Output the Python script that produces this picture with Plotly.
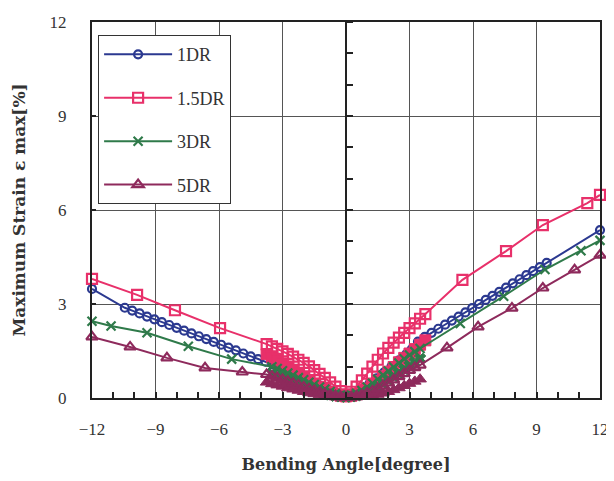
import plotly.graph_objects as go

# ---------------- data ----------------
series_names = ["1DR", "1.5DR", "3DR", "5DR"]

# 1DR (blue circles)
x_1dr = [-12, -10.45, -10.1, -9.75, -9.4, -9.05, -8.7, -8.35, -8.0, -7.65, -7.3, -6.95, -6.6, -6.25,
         -5.9, -5.55, -5.2, -4.85, -4.5, -4.15, -3.8, -3.45, -3.1, -2.75, -2.4, -2.05, -1.7, -1.35,
         -1.0, -0.65, -0.3, 0.05, 0.4, 0.75, 1.1, 1.45, 1.8, 2.15, 2.5, 2.85, 3.1, 3.4, 3.72, 4.04,
         4.36, 4.68, 5.0, 5.32, 5.64, 5.96, 6.28, 6.6, 6.92, 7.24, 7.56, 7.88, 8.2, 8.52, 8.84, 9.16,
         9.48, 12]
y_1dr = [3.48, 2.88, 2.79, 2.70, 2.60, 2.51, 2.42, 2.33, 2.24, 2.15, 2.06, 1.97, 1.88, 1.79,
         1.70, 1.61, 1.52, 1.42, 1.33, 1.24, 1.16, 1.07, 0.98, 0.88, 0.78, 0.67, 0.56, 0.45,
         0.34, 0.23, 0.13, 0.07, 0.14, 0.28, 0.45, 0.63, 0.82, 1.01, 1.20, 1.40, 1.55, 1.80, 1.95, 2.08,
         2.21, 2.34, 2.47, 2.60, 2.73, 2.87, 3.00, 3.13, 3.26, 3.39, 3.52, 3.66, 3.79, 3.92, 4.05, 4.18,
         4.31, 5.36]

# 1.5DR (red squares) - loading branch
x_15dr = [-12, -9.87, -8.08, -5.95, -3.75, -3.5, -3.25, -3.0, -2.75, -2.5, -2.25, -2.0, -1.75, -1.5,
          -1.25, -1.0, -0.75, -0.5, -0.25, 0, 0.25, 0.5, 0.75, 1.0, 1.25, 1.5, 1.75, 2.0, 2.25, 2.5,
          2.75, 3.0, 3.25, 3.5, 3.75, 5.5, 7.56, 9.3, 11.4, 12]
y_15dr = [3.80, 3.29, 2.80, 2.23, 1.72, 1.65, 1.57, 1.49, 1.41, 1.32, 1.22, 1.12, 1.01, 0.89,
          0.77, 0.64, 0.50, 0.36, 0.22, 0.12, 0.20, 0.36, 0.56, 0.78, 1.00, 1.22, 1.42, 1.60, 1.77, 1.93,
          2.08, 2.23, 2.38, 2.53, 2.68, 3.77, 4.69, 5.52, 6.22, 6.48]
# 1.5DR - return branch in the dense range
x_15dr_ret = [-3.75, -3.5, -3.25, -3.0, -2.75, -2.5, -2.25, -2.0, -1.75, -1.5, -1.25, -1.0, -0.75, -0.5,
              -0.25, 0, 0.25, 0.5, 0.75, 1.0, 1.25, 1.5, 1.75, 2.0, 2.25, 2.5, 2.75, 3.0, 3.25, 3.5, 3.75]
y_15dr_ret = [1.40, 1.30, 1.20, 1.10, 0.99, 0.88, 0.77, 0.66, 0.56, 0.46, 0.36, 0.27, 0.19, 0.12,
              0.07, 0.05, 0.07, 0.12, 0.20, 0.30, 0.42, 0.55, 0.69, 0.84, 0.99, 1.14, 1.28, 1.42, 1.56, 1.70, 1.84]

# 3DR (green crosses) - loading branch
x_3dr = [-12, -11.1, -9.4, -7.45, -5.4, -3.5, -3.25, -3.0, -2.75, -2.5, -2.25, -2.0, -1.75, -1.5,
         -1.25, -1.0, -0.75, -0.5, -0.25, 0, 0.25, 0.5, 0.75, 1.0, 1.25, 1.5, 1.75, 2.0, 2.25, 2.5,
         2.75, 3.0, 3.25, 3.5, 5.4, 7.45, 9.4, 11.1, 12]
y_3dr = [2.45, 2.30, 2.08, 1.65, 1.24, 1.00, 0.94, 0.87, 0.80, 0.73, 0.65, 0.58, 0.50, 0.43,
         0.35, 0.28, 0.21, 0.14, 0.09, 0.06, 0.09, 0.15, 0.24, 0.35, 0.47, 0.60, 0.73, 0.86, 0.99, 1.12,
         1.25, 1.37, 1.48, 1.58, 2.38, 3.25, 4.10, 4.70, 5.03]
x_3dr_ret = [-3.5, -3.25, -3.0, -2.75, -2.5, -2.25, -2.0, -1.75, -1.5, -1.25, -1.0, -0.75, -0.5, -0.25,
             0, 0.25, 0.5, 0.75, 1.0, 1.25, 1.5, 1.75, 2.0, 2.25, 2.5, 2.75, 3.0, 3.25, 3.5]
y_3dr_ret = [0.78, 0.72, 0.66, 0.60, 0.53, 0.47, 0.40, 0.34, 0.28, 0.22, 0.16, 0.11, 0.07, 0.05,
             0.04, 0.05, 0.08, 0.13, 0.20, 0.28, 0.37, 0.47, 0.58, 0.69, 0.80, 0.92, 1.03, 1.14, 1.25]

# 5DR (purple triangles) - loading branch
x_5dr = [-12, -10.2, -8.46, -6.66, -4.9, -3.75, -3.5, -3.25, -3.0, -2.75, -2.5, -2.25, -2.0, -1.75,
         -1.5, -1.25, -1.0, -0.75, -0.5, -0.25, 0, 0.25, 0.5, 0.75, 1.0, 1.25, 1.5, 1.75, 2.0, 2.25,
         2.5, 2.75, 3.0, 3.25, 3.5, 4.77, 6.24, 7.84, 9.3, 10.8, 12]
y_5dr = [1.95, 1.63, 1.28, 0.96, 0.83, 0.75, 0.70, 0.65, 0.59, 0.53, 0.47, 0.41, 0.35, 0.29,
         0.24, 0.19, 0.14, 0.10, 0.07, 0.05, 0.04, 0.04, 0.06, 0.10, 0.16, 0.22, 0.30, 0.39, 0.48, 0.58,
         0.68, 0.78, 0.88, 0.97, 1.05, 1.60, 2.27, 2.87, 3.51, 4.09, 4.56]
x_5dr_ret = [-3.75, -3.5, -3.25, -3.0, -2.75, -2.5, -2.25, -2.0, -1.75, -1.5, -1.25, -1.0, -0.75, -0.5,
             -0.25, 0, 0.25, 0.5, 0.75, 1.0, 1.25, 1.5, 1.75, 2.0, 2.25, 2.5, 2.75, 3.0, 3.25, 3.5]
y_5dr_ret = [0.50, 0.45, 0.41, 0.37, 0.32, 0.28, 0.24, 0.20, 0.16, 0.13, 0.10, 0.07, 0.05, 0.03,
             0.02, 0.02, 0.02, 0.03, 0.04, 0.05, 0.08, 0.11, 0.15, 0.20, 0.26, 0.32, 0.39, 0.46, 0.53, 0.60]

x_ticks = [-12, -9, -6, -3, 0, 3, 6, 9, 12]
y_ticks = [0, 3, 6, 9, 12]

# ---------------- styles ----------------
colors = {"1DR": "#2b3990", "1.5DR": "#e8306a", "3DR": "#2f7a4a", "5DR": "#8e2a5c"}
symbols_open = {"1DR": "circle-open", "1.5DR": "square-open", "3DR": "x-thin", "5DR": "triangle-up-open"}
symbols_fill = {"1DR": "circle", "1.5DR": "square", "3DR": "x", "5DR": "triangle-up"}
sizes = {"1DR": 8, "1.5DR": 10, "3DR": 9, "5DR": 10}

data_main = {"1DR": (x_1dr, y_1dr), "1.5DR": (x_15dr, y_15dr), "3DR": (x_3dr, y_3dr), "5DR": (x_5dr, y_5dr)}
data_ret = {"1.5DR": (x_15dr_ret, y_15dr_ret), "3DR": (x_3dr_ret, y_3dr_ret), "5DR": (x_5dr_ret, y_5dr_ret)}

fig = go.Figure()

for name in series_names:
    c = colors[name]
    if name in data_ret:
        xr, yr = data_ret[name]
        fig.add_trace(go.Scatter(
            x=xr, y=yr, name=name, mode="lines+markers", legendgroup=name, showlegend=False,
            line=dict(color=c, width=2),
            marker=dict(symbol=symbols_fill[name], size=sizes[name] + 1, color=c, line=dict(color=c, width=1)),
            cliponaxis=False))
    xs, ys = data_main[name]
    fig.add_trace(go.Scatter(
        x=xs, y=ys, name=name, mode="lines+markers", legendgroup=name,
        line=dict(color=c, width=2),
        marker=dict(symbol=symbols_open[name], size=sizes[name], color=c, line=dict(color=c, width=2.2)),
        cliponaxis=False))

# empty trace so that the centre tick axis is drawn
fig.add_trace(go.Scatter(x=[], y=[], yaxis="y2", showlegend=False, hoverinfo="skip"))

tick_font = dict(family="Liberation Serif, DejaVu Serif, serif", size=17, color="#333")
xtitle_font = dict(family="DejaVu Serif, serif", size=16, color="#333")
ytitle_font = dict(family="DejaVu Serif, serif", size=17, color="#333")

fig.update_layout(
    width=614, height=481,
    # the page adds an 8px body margin, compensated here
    margin=dict(l=84, r=22, t=14, b=91),
    paper_bgcolor="white", plot_bgcolor="white",
    showlegend=True,
    legend=dict(
        x=0.012, y=0.965, xanchor="left", yanchor="top",
        bgcolor="white", bordercolor="#333", borderwidth=1,
        font=dict(family="Liberation Serif, DejaVu Serif, serif", size=18, color="#333"),
        tracegroupgap=17, itemwidth=68,
    ),
    xaxis=dict(
        range=[-12, 12], tickvals=x_ticks, ticktext=[str(v).replace("-", "\u2212") for v in x_ticks],
        showgrid=True, gridcolor="#555", gridwidth=1,
        zeroline=True, zerolinecolor="#222", zerolinewidth=2,
        showline=True, linecolor="#222", linewidth=2, mirror=True,
        ticks="inside", ticklen=6, tickcolor="#222", tickwidth=2,
        minor=dict(dtick=1, ticks="inside", ticklen=6, tickcolor="#222", tickwidth=2, showgrid=False),
        tickfont=tick_font, ticklabelstandoff=15, automargin=False,
        title=dict(text="<b>Bending Angle[degree]</b>", font=xtitle_font, standoff=20),
    ),
    yaxis=dict(
        range=[0, 12], tickvals=y_ticks,
        showgrid=True, gridcolor="#555", gridwidth=1, zeroline=False,
        showline=True, linecolor="#222", linewidth=2, mirror=True,
        ticks="inside", ticklen=4, tickcolor="#222", tickwidth=2,
        tickfont=tick_font, ticklabelstandoff=20, automargin=False,
        title=dict(text="<b>Maximum Strain \u03b5 max[%]</b>", font=ytitle_font, standoff=20),
    ),
    yaxis2=dict(
        range=[0, 12], overlaying="y", anchor="free", position=0.5, side="right",
        showgrid=False, zeroline=False, showline=False, showticklabels=False,
        ticks="outside", ticklen=6, tickcolor="#222", tickwidth=2, dtick=1, automargin=False,
    ),
)

fig.write_html("out.html")
